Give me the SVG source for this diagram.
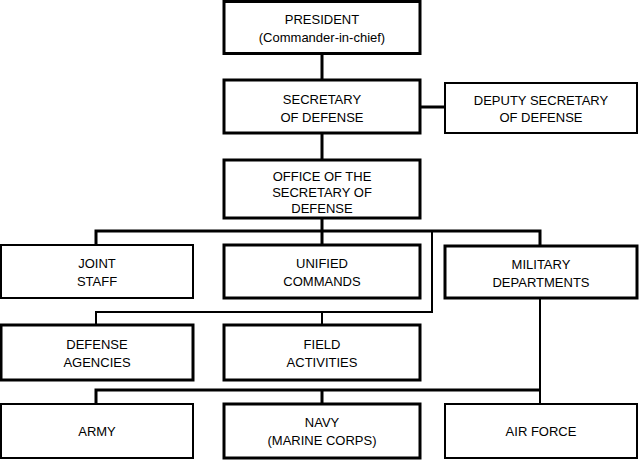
<svg xmlns="http://www.w3.org/2000/svg" width="640" height="460" viewBox="0 0 640 460">
<style>
.b{fill:#fff;stroke:#000;stroke-width:3}
.t{fill:#fff;stroke:#000;stroke-width:2}
text{font-family:"Liberation Sans",Arial,sans-serif;font-size:13px;text-anchor:middle;fill:#000}
.c{fill:none;stroke:#000;stroke-width:3}
.d{fill:none;stroke:#000;stroke-width:2}
</style>
<rect width="640" height="460" fill="#fff"/>
<g id="connectors">
<path class="c" d="M322 53V80M322 133V160M420 107H445M322 218V245M96 245V231H540V245M96 404V390H540M322 390V404"/>
<path class="d" d="M432 231V312H96V325M322 312V325M540 298V404"/>
</g>
<g id="president"><rect class="b" x="224" y="1.5" width="196" height="52"/><text x="322" y="24">PRESIDENT</text><text x="322" y="42">(Commander-in-chief)</text></g>
<g id="secdef"><rect class="b" x="224" y="80" width="196" height="53"/><text x="322" y="104">SECRETARY</text><text x="322" y="122">OF DEFENSE</text></g>
<g id="deputy"><rect class="t" x="445" y="83" width="192" height="50"/><text x="541" y="105">DEPUTY SECRETARY</text><text x="541" y="122">OF DEFENSE</text></g>
<g id="osd"><rect class="b" x="224" y="160" width="196" height="58"/><text x="322" y="181">OFFICE OF THE</text><text x="322" y="197">SECRETARY OF</text><text x="322" y="213">DEFENSE</text></g>
<g id="joint"><rect class="t" x="1" y="245" width="192" height="53"/><text x="97" y="268">JOINT</text><text x="97" y="286">STAFF</text></g>
<g id="unified"><rect class="b" x="224" y="245" width="196" height="53"/><text x="322" y="268">UNIFIED</text><text x="322" y="286">COMMANDS</text></g>
<g id="military"><rect class="b" x="445" y="246" width="192" height="52"/><text x="541" y="269">MILITARY</text><text x="541" y="287">DEPARTMENTS</text></g>
<g id="agencies"><rect class="b" x="1" y="325" width="192" height="55"/><text x="97" y="349">DEFENSE</text><text x="97" y="367">AGENCIES</text></g>
<g id="field"><rect class="b" x="224" y="325" width="196" height="55"/><text x="322" y="349">FIELD</text><text x="322" y="367">ACTIVITIES</text></g>
<g id="army"><rect class="t" x="1" y="404" width="192" height="54"/><text x="97" y="436">ARMY</text></g>
<g id="navy"><rect class="b" x="224" y="404" width="196" height="54"/><text x="322" y="427">NAVY</text><text x="322" y="445">(MARINE CORPS)</text></g>
<g id="airforce"><rect class="t" x="445" y="404" width="192" height="54"/><text x="541" y="436">AIR FORCE</text></g>
</svg>
